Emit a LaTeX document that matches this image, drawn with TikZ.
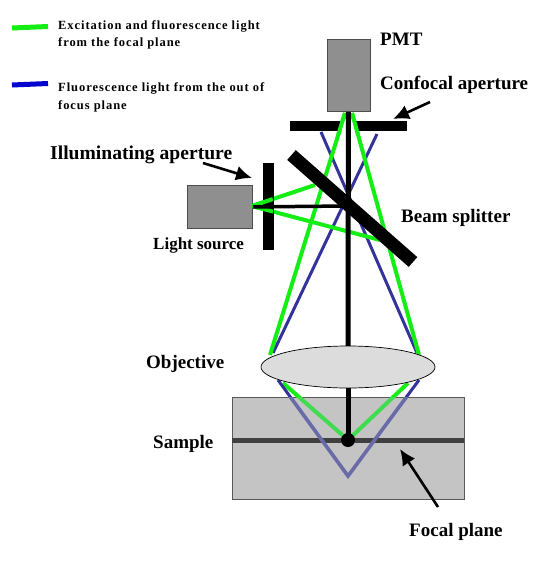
\documentclass[tikz,border=0pt]{standalone}
\usepackage{fontspec}
\setmainfont{Liberation Serif}[BoldFont={Liberation Serif Bold}]
\newfontfamily\legfont{Liberation Serif Bold}[LetterSpace=7.5]
\usetikzlibrary{arrows.meta,calc,shapes.geometric}
\definecolor{raygreen}{HTML}{14EE14}
\definecolor{rayblue}{HTML}{333399}
\definecolor{palegreen}{HTML}{3FDC50}
\definecolor{paleblue}{HTML}{6A6AA8}
\definecolor{legblue}{HTML}{0505D0}
\definecolor{boxgray}{HTML}{8F8F8F}
\definecolor{samplefill}{HTML}{C4C4C4}
\definecolor{planegray}{HTML}{404040}
\definecolor{lensfill}{HTML}{DCDCDC}
\tikzset{
  x=1pt,y=-1pt,
  greenray/.style={draw=raygreen,line width=4pt},
  blueray/.style={draw=rayblue,line width=3pt},
  legendline/.style={line width=5pt},
  grayblock/.style={draw=black!70,line width=0.8pt,fill=boxgray},
  blackbar/.style={fill=black,draw=none},
  axis/.style={draw=black,line width=5pt},
  pointer/.style={draw=black,line width=2.6pt,-{Latex[length=16pt,width=15pt]}},
  lab/.style={anchor=base west,inner sep=0,font=\fontsize{19}{22}\selectfont\bfseries},
  smalllab/.style={anchor=base west,inner sep=0,font=\fontsize{17}{20}\selectfont\bfseries},
  leg/.style={anchor=base west,inner sep=0,font=\fontsize{12.5}{15}\selectfont\legfont},
}
\begin{document}
\begin{tikzpicture}
\useasboundingbox (0,0) rectangle (550,572);
\fill[white] (0,0) rectangle (550,572);
% key points
\coordinate (lsout) at (252,206);
\coordinate (cross) at (348,206);
\coordinate (gl1) at (345,113);
\coordinate (gr1) at (352,113);
\coordinate (gl2) at (270,355);
\coordinate (gr2) at (419,355);
\coordinate (gl3) at (283,383);
\coordinate (gr3) at (408,383);
\coordinate (focus) at (348,440);
\coordinate (bl1) at (377,134);
\coordinate (br1) at (321,132);
\coordinate (bl2) at (273,353);
\coordinate (br2) at (417,353);
\coordinate (bl3) at (278,380);
\coordinate (br3) at (419,380);
\coordinate (deep) at (348,476);
\coordinate (gs1) at (315,185);
\coordinate (gs2) at (380,240);
% rays above the sample
\draw[blueray] (bl1) -- (bl2);
\draw[blueray] (br1) -- (br2);
\draw[greenray] (gl1) -- (gl2);
\draw[greenray] (gr1) -- (gr2);
\draw[greenray] (lsout) -- (gs1);
\draw[greenray] (lsout) -- (gs2);
\draw[greenray] (gl3) -- (focus) -- (gr3);
\draw[blueray] (bl3) -- (deep) -- (br3);
% sample
\node[name=sample,draw=black!65,line width=0.8pt,fill=samplefill,minimum width=232pt,minimum height=102pt,inner sep=0,anchor=north west] at (232,397) {};
\fill[planegray] (232,438) rectangle (464,443);
\begin{scope}
\clip (232.5,397.5) rectangle (463.5,498.5);
\draw[greenray,draw=palegreen] (gl3) -- (focus) -- (gr3);
\draw[blueray,draw=paleblue,line width=3.6pt] (bl3) -- (deep) -- (br3);
\end{scope}
% PMT, apertures, source
\node[name=pmt,grayblock,minimum width=43pt,minimum height=72pt,inner sep=0,anchor=north west] at (326.5,39) {};
\node[name=source,grayblock,minimum width=65pt,minimum height=43pt,inner sep=0,anchor=north west] at (187,185) {};
\fill[blackbar] (290,121) rectangle (407,131);
\node[name=illum,blackbar,minimum width=10.5pt,minimum height=87pt,inner sep=0,anchor=north west] at (263,163) {};
\fill[white] (341,121) rectangle (355,131);
\draw[greenray] (gl1) -- ($(gl1)!0.09!(gl2)$);
\draw[greenray] (gr1) -- ($(gr1)!0.09!(gr2)$);
% axis
\draw[axis] (pmt.south) -- (348,346);
\draw[greenray] (lsout) -- ($(lsout)!0.33!(gs1)$);
\draw[greenray] (lsout) -- ($(lsout)!0.165!(gs2)$);
\draw[draw=black,line width=3.5pt] (source.east) -- (cross);
% beam splitter
\draw[black,line width=13pt] (291.5,155) coordinate (bs1) -- (413,262) coordinate (bs2);
% lens and focus
\node[name=lens,ellipse,draw=black,line width=0.7pt,fill=lensfill,minimum width=174pt,minimum height=42pt,inner sep=0] at (348,367) {};
\draw[axis] (lens.south) -- (focus);
\node[name=fdot,circle,fill=black,minimum size=14pt,inner sep=0] at (focus) {};
% legend
\draw[raygreen,legendline] (12,28) -- (48,26.5);
\draw[legblue,legendline] (12,85) -- (48,83.5);
\node[name=t1,leg] at (58,30) {Excitation and fluorescence light};
\node[name=t2,leg] at (58,47) {from the focal  plane};
\node[name=t3,leg] at (58,92) {Fluorescence light from the  out of};
\node[name=t4,leg] at (58,110) {focus plane};
% labels
\node[name=lpmt,lab] at (380,46) {PMT};
\node[name=lconf,lab] at (380,90) {Confocal aperture};
\node[name=lill,lab,font=\fontsize{19.6}{22}\selectfont\bfseries] at (50,160) {Illuminating aperture};
\node[name=lbeam,lab] at (401,222) {Beam splitter};
\node[name=lsrc,smalllab] at (153,249) {Light source};
\node[name=lobj,lab] at (146,368) {Objective};
\node[name=lsam,lab] at (153,448) {Sample};
\node[name=lfoc,lab] at (409,536) {Focal plane};
% pointers
\coordinate (a1s) at (203,163); \coordinate (a1e) at (252,178);
\coordinate (a2s) at (430,102); \coordinate (a2e) at (393,119);
\coordinate (a3s) at (438,507); \coordinate (a3e) at (400,449);
\draw[pointer] (a1s) -- (a1e);
\draw[pointer] (a2s) -- (a2e);
\draw[pointer] (a3s) -- (a3e);
\end{tikzpicture}
\end{document}
